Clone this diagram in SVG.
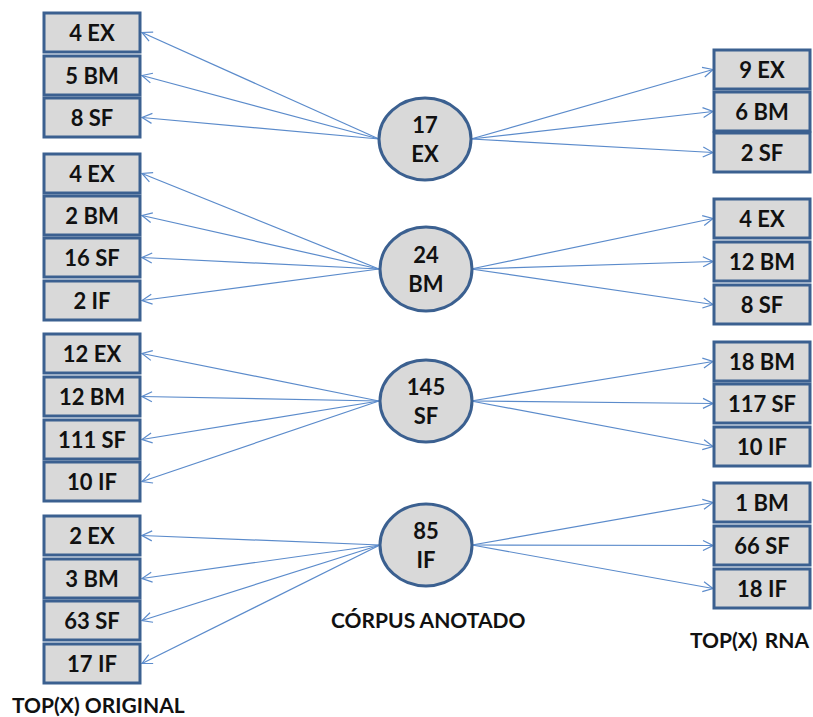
<svg xmlns="http://www.w3.org/2000/svg" width="813" height="717" viewBox="0 0 813 717">
  <defs>
    <marker id="arr" markerUnits="userSpaceOnUse" markerWidth="12" markerHeight="12" viewBox="0 0 12 12" refX="11" refY="6" orient="auto">
      <path d="M1,1 L11,6 L1,11" fill="none" stroke="#5B8BCB" stroke-width="1.2"/>
    </marker>
  </defs>
  <style>
    .box { fill: #D9D9D9; stroke: #3B6090; stroke-width: 3; }
    .hub { fill: #D9D9D9; stroke: #3B6090; stroke-width: 3; }
    .t { font-family: Lato, "Open Sans", "Liberation Sans", sans-serif; font-weight: bold; font-size: 22px; fill: #111; text-anchor: middle; }
    .lbl { font-family: Lato, "Open Sans", "Liberation Sans", sans-serif; font-weight: bold; font-size: 21px; fill: #111; }
    .c line { stroke: #5B8BCB; stroke-width: 1.2; marker-end: url(#arr); }
  </style>

  <!-- connectors -->
  <g id="connectors" class="c">
    <!-- 17 EX -->
    <line x1="379" y1="139" x2="142" y2="32.5"/>
    <line x1="379" y1="139" x2="142" y2="75.5"/>
    <line x1="379" y1="139" x2="142" y2="117.5"/>
    <line x1="471" y1="139" x2="713" y2="69.5"/>
    <line x1="471" y1="139" x2="713" y2="111.5"/>
    <line x1="471" y1="139" x2="713" y2="152.5"/>
    <!-- 24 BM -->
    <line x1="379" y1="269" x2="142" y2="173.5"/>
    <line x1="379" y1="269" x2="142" y2="215.5"/>
    <line x1="379" y1="269" x2="142" y2="257.5"/>
    <line x1="379" y1="269" x2="142" y2="300.5"/>
    <line x1="471" y1="269" x2="713" y2="218.5"/>
    <line x1="471" y1="269" x2="713" y2="261.5"/>
    <line x1="471" y1="269" x2="713" y2="304.5"/>
    <!-- 145 SF -->
    <line x1="379" y1="401" x2="142" y2="353.5"/>
    <line x1="379" y1="401" x2="142" y2="396.5"/>
    <line x1="379" y1="401" x2="142" y2="439.5"/>
    <line x1="379" y1="401" x2="142" y2="481.5"/>
    <line x1="471" y1="401" x2="713" y2="361.5"/>
    <line x1="471" y1="401" x2="713" y2="403.5"/>
    <line x1="471" y1="401" x2="713" y2="446.5"/>
    <!-- 85 IF -->
    <line x1="380" y1="545" x2="142" y2="535.5"/>
    <line x1="380" y1="545" x2="142" y2="578.5"/>
    <line x1="380" y1="545" x2="142" y2="620.5"/>
    <line x1="380" y1="545" x2="142" y2="663.5"/>
    <line x1="472" y1="545" x2="713" y2="502.5"/>
    <line x1="472" y1="545" x2="713" y2="545.5"/>
    <line x1="472" y1="545" x2="713" y2="588.5"/>
  </g>

  <!-- original top(x) boxes -->
  <g id="o-ex-1"><rect class="box" x="44" y="13" width="96" height="39"/><text class="t" x="92" y="40.5">4 EX</text></g>
  <g id="o-ex-2"><rect class="box" x="44" y="56" width="96" height="39"/><text class="t" x="92" y="83.5">5 BM</text></g>
  <g id="o-ex-3"><rect class="box" x="44" y="98" width="96" height="39"/><text class="t" x="92" y="125.5">8 SF</text></g>

  <g id="o-bm-1"><rect class="box" x="44" y="154" width="96" height="39"/><text class="t" x="92" y="181.5">4 EX</text></g>
  <g id="o-bm-2"><rect class="box" x="44" y="196" width="96" height="39"/><text class="t" x="92" y="223.5">2 BM</text></g>
  <g id="o-bm-3"><rect class="box" x="44" y="238" width="96" height="39"/><text class="t" x="92" y="265.5">16 SF</text></g>
  <g id="o-bm-4"><rect class="box" x="44" y="281" width="96" height="39"/><text class="t" x="92" y="308.5">2 IF</text></g>

  <g id="o-sf-1"><rect class="box" x="44" y="334" width="96" height="39"/><text class="t" x="92" y="361.5">12 EX</text></g>
  <g id="o-sf-2"><rect class="box" x="44" y="377" width="96" height="39"/><text class="t" x="92" y="404.5">12 BM</text></g>
  <g id="o-sf-3"><rect class="box" x="44" y="420" width="96" height="39"/><text class="t" x="92" y="447.5">111 SF</text></g>
  <g id="o-sf-4"><rect class="box" x="44" y="462" width="96" height="39"/><text class="t" x="92" y="489.5">10 IF</text></g>

  <g id="o-if-1"><rect class="box" x="44" y="516" width="96" height="39"/><text class="t" x="92" y="543.5">2 EX</text></g>
  <g id="o-if-2"><rect class="box" x="44" y="559" width="96" height="39"/><text class="t" x="92" y="586.5">3 BM</text></g>
  <g id="o-if-3"><rect class="box" x="44" y="601" width="96" height="39"/><text class="t" x="92" y="628.5">63 SF</text></g>
  <g id="o-if-4"><rect class="box" x="44" y="644" width="96" height="39"/><text class="t" x="92" y="671.5">17 IF</text></g>

  <!-- annotated corpus hubs -->
  <g id="hub-ex"><ellipse class="hub" cx="425" cy="139" rx="46" ry="41"/><text class="t" x="425" y="133">17</text><text class="t" x="425" y="162">EX</text></g>
  <g id="hub-bm"><ellipse class="hub" cx="426" cy="269" rx="46" ry="42"/><text class="t" x="426" y="263">24</text><text class="t" x="426" y="292">BM</text></g>
  <g id="hub-sf"><ellipse class="hub" cx="426" cy="401" rx="46" ry="41"/><text class="t" x="426" y="395">145</text><text class="t" x="426" y="424">SF</text></g>
  <g id="hub-if"><ellipse class="hub" cx="426" cy="545" rx="46" ry="41"/><text class="t" x="426" y="539">85</text><text class="t" x="426" y="568">IF</text></g>

  <!-- RNA top(x) boxes -->
  <g id="r-ex-1"><rect class="box" x="714" y="50" width="96" height="39"/><text class="t" x="762" y="77.5">9 EX</text></g>
  <g id="r-ex-2"><rect class="box" x="714" y="92" width="96" height="39"/><text class="t" x="762" y="119.5">6 BM</text></g>
  <g id="r-ex-3"><rect class="box" x="714" y="133" width="96" height="39"/><text class="t" x="762" y="160.5">2 SF</text></g>

  <g id="r-bm-1"><rect class="box" x="714" y="199" width="96" height="39"/><text class="t" x="762" y="226.5">4 EX</text></g>
  <g id="r-bm-2"><rect class="box" x="714" y="242" width="96" height="39"/><text class="t" x="762" y="269.5">12 BM</text></g>
  <g id="r-bm-3"><rect class="box" x="714" y="285" width="96" height="39"/><text class="t" x="762" y="312.5">8 SF</text></g>

  <g id="r-sf-1"><rect class="box" x="714" y="342" width="96" height="39"/><text class="t" x="762" y="369.5">18 BM</text></g>
  <g id="r-sf-2"><rect class="box" x="714" y="384" width="96" height="39"/><text class="t" x="762" y="411.5">117 SF</text></g>
  <g id="r-sf-3"><rect class="box" x="714" y="427" width="96" height="39"/><text class="t" x="762" y="454.5">10 IF</text></g>

  <g id="r-if-1"><rect class="box" x="714" y="483" width="96" height="39"/><text class="t" x="762" y="510.5">1 BM</text></g>
  <g id="r-if-2"><rect class="box" x="714" y="526" width="96" height="39"/><text class="t" x="762" y="553.5">66 SF</text></g>
  <g id="r-if-3"><rect class="box" x="714" y="569" width="96" height="39"/><text class="t" x="762" y="596.5">18 IF</text></g>

  <!-- column captions -->
  <g id="captions">
    <text class="lbl" x="331" y="628">CÓRPUS ANOTADO</text>
    <text class="lbl" x="809" y="648" text-anchor="end" word-spacing="2">TOP(X) RNA</text>
    <text class="lbl" x="12" y="713">TOP(X) ORIGINAL</text>
  </g>
</svg>
